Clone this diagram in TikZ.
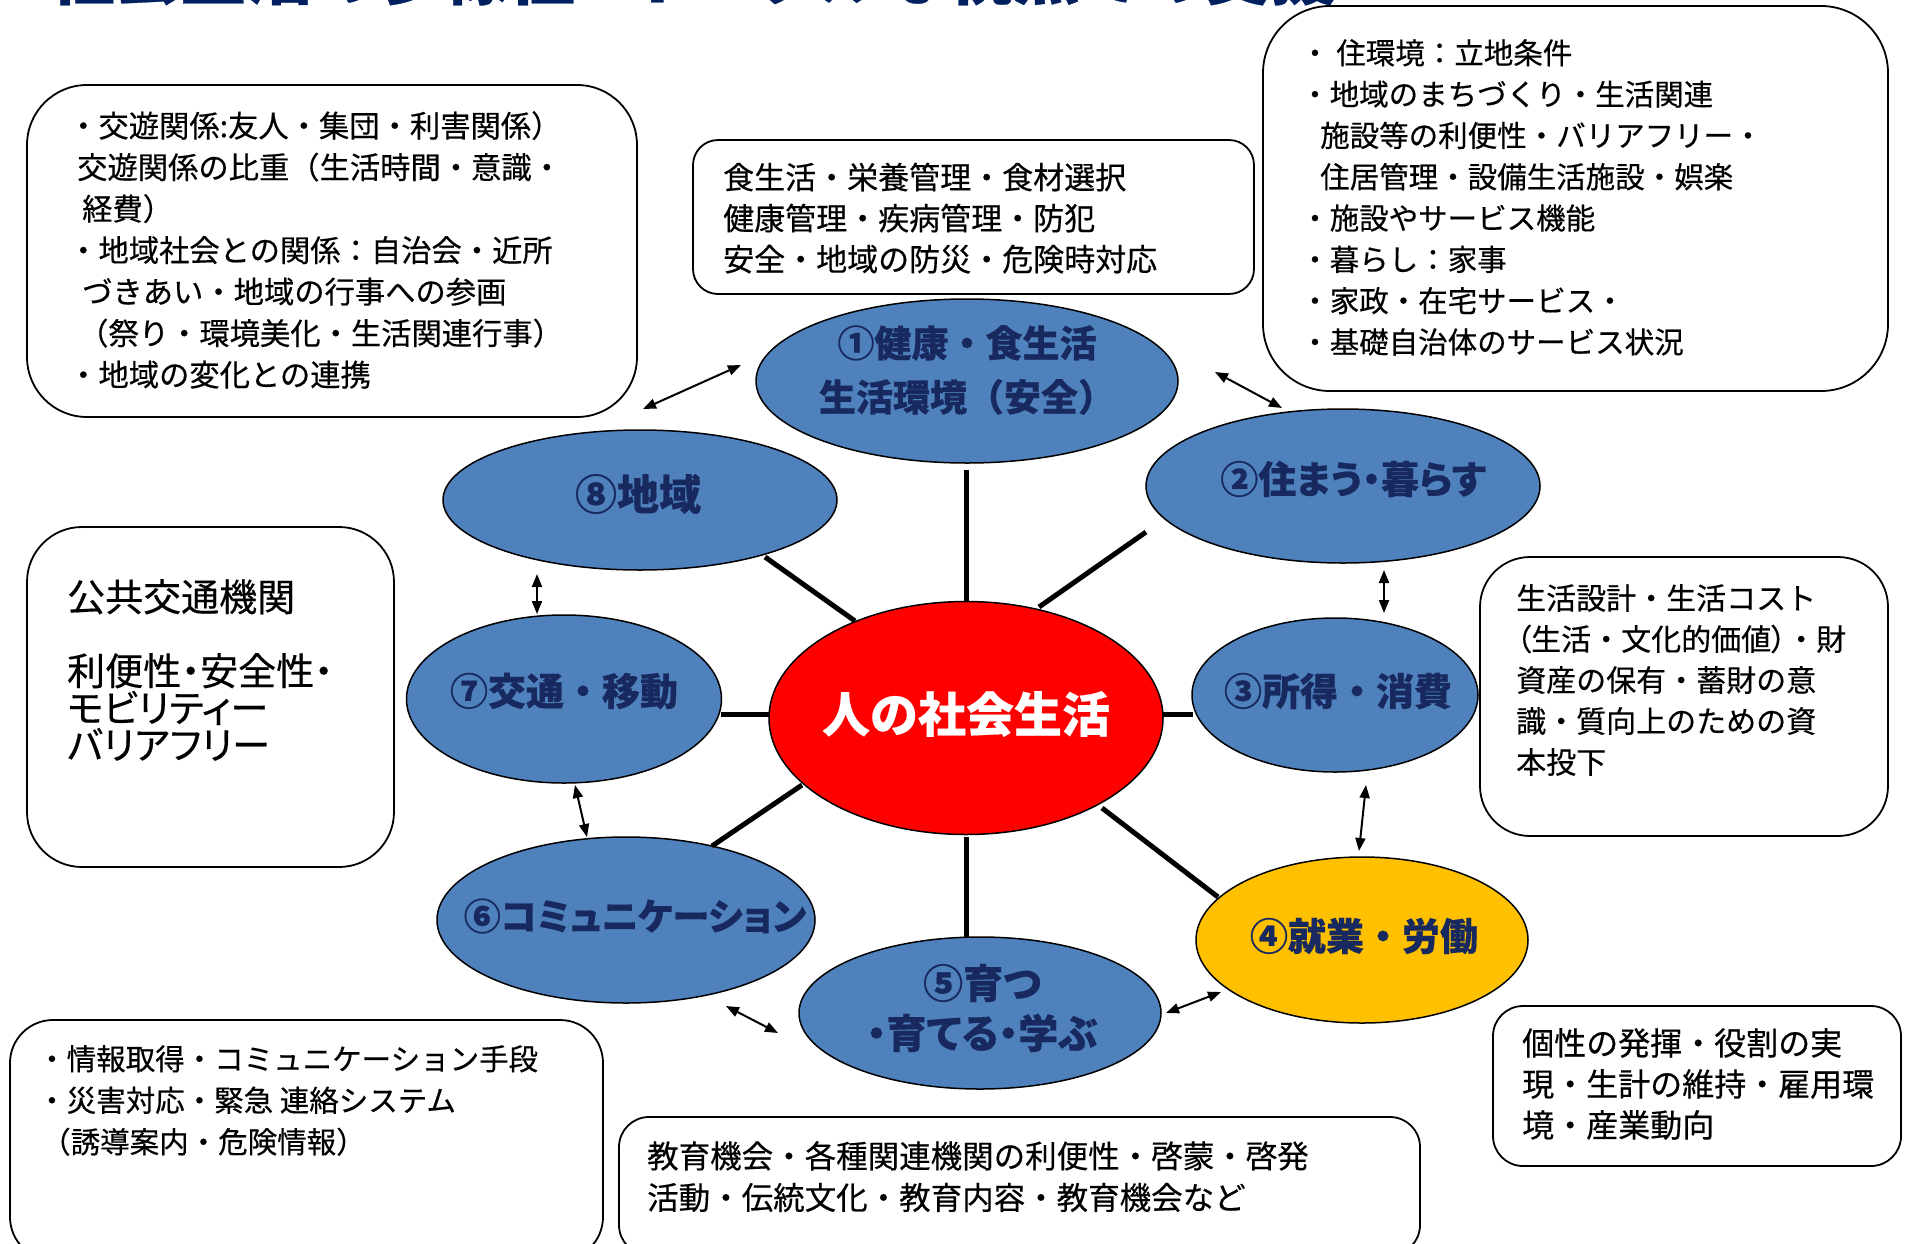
\documentclass[tikz,border=0pt]{standalone}
\usepackage{fontspec}
\setmainfont{Noto Sans CJK JP}[FakeBold=0.4]
\newfontfamily\pfont{Noto Sans CJK JP}[RawFeature=+palt,FakeBold=0.4]
\usetikzlibrary{shapes.geometric,arrows.meta}
\definecolor{ellblue}{HTML}{4F81BD}
\definecolor{ellyellow}{HTML}{FFC000}
\definecolor{ellred}{HTML}{FF0000}
\definecolor{navy}{HTML}{17295E}
\definecolor{titlenavy}{HTML}{002060}
\begin{document}
\begin{tikzpicture}[x=1pt,y=-1pt,
  panel/.style={draw, line width=1.8pt, inner sep=0pt, outer sep=0pt},
  bubble/.style={ellipse, draw, line width=1.5pt, fill=ellblue, inner sep=0pt, outer sep=0pt},
  boxtext/.style={anchor=north west, align=left, inner sep=0pt},
  elltext/.style={align=center, inner sep=0pt, text=navy, font=\bfseries\fontsize{37}{54}\selectfont},
  spoke/.style={line width=5pt},
  link/.style={line width=2pt, {Triangle[length=13pt,width=10pt]}-{Triangle[length=13pt,width=10pt]}}
]
\useasboundingbox (0,0) rectangle (1914,1243);
\fill[white] (0,0) rectangle (1914,1243);

% title (clipped at the top)
\node[anchor=base west, inner sep=0pt, text=titlenavy, font=\pfont\bfseries\fontsize{66}{70}\selectfont] (title) at (48,-1) {社会生活の多様性ートータルな視点での支援};

% boxes
\node[panel, rounded corners=60pt, minimum width=610pt, minimum height=332pt] (bA) at (332,251) {};
\node[panel, rounded corners=25pt, minimum width=561pt, minimum height=154pt] (bB) at (973.5,217) {};
\node[panel, rounded corners=67pt, minimum width=625pt, minimum height=385pt] (bC) at (1575.5,198.5) {};
\node[panel, rounded corners=55pt, minimum width=367pt, minimum height=340pt] (bD) at (210.5,697) {};
\node[panel, rounded corners=50pt, minimum width=408pt, minimum height=279pt] (bE) at (1684,696.5) {};
\node[panel, rounded corners=43pt, minimum width=593pt, minimum height=240pt] (bF) at (306.5,1140) {};
\node[panel, rounded corners=30pt, minimum width=801pt, minimum height=138pt] (bG) at (1019.5,1186) {};
\node[panel, rounded corners=30pt, minimum width=408pt, minimum height=160pt] (bH) at (1697,1086) {};

% box texts
\node[boxtext, font=\fontsize{30.3}{41.5}\selectfont] (tA) at (68,111) {・交遊関係:友人・集団・利害関係）\\\hspace*{9pt}交遊関係の比重（生活時間・意識・\\\hspace*{14pt}経費）\\・地域社会との関係：自治会・近所\\\hspace*{14pt}づきあい・地域の行事への参画\\\hspace*{10pt}（祭り・環境美化・生活関連行事）\\・地域の変化との連携};
\node[boxtext, font=\fontsize{31}{41}\selectfont] (tB) at (723,162.5) {食生活・栄養管理・食材選択\\健康管理・疾病管理・防犯\\安全・地域の防災・危険時対応};
\node[boxtext, font=\fontsize{29.5}{41.3}\selectfont] (tC) at (1300,39) {・ 住環境：立地条件\\・地域のまちづくり・生活関連\\\hspace*{20pt}施設等の利便性・バリアフリー・\\\hspace*{20pt}住居管理・設備生活施設・娯楽\\・施設やサービス機能\\・暮らし：家事\\・家政・在宅サービス・\\・基礎自治体のサービス状況};
\node[boxtext, font=\pfont\fontsize{38}{37}\selectfont] (tD) at (67,579) {公共交通機関\\[37pt]利便性・安全性・\\モビリティー\\バリアフリー};
\node[boxtext, font=\fontsize{30}{41}\selectfont] (tE) at (1516,584) {生活設計・生活コスト\\{\pfont （}生活・文化的価値{\pfont ）}・財\\資産の保有・蓄財の意\\識・質向上のための資\\本投下};
\node[boxtext, font=\fontsize{29.5}{41.5}\selectfont] (tF) at (37,1045) {・情報取得・コミュニケーション手段\\・災害対応・緊急 連絡システム\\\hspace*{4pt}（誘導案内・危険情報）};
\node[boxtext, font=\fontsize{31.5}{41.5}\selectfont] (tG) at (647,1141) {教育機会・各種関連機関の利便性・啓蒙・啓発\\活動・伝統文化・教育内容・教育機会など};
\node[boxtext, font=\fontsize{32}{41}\selectfont] (tH) at (1522,1028) {個性の発揮・役割の実\\現・生計の維持・雇用環\\境・産業動向};

% ellipses
\node[bubble, minimum width=422pt, minimum height=164pt] (e1) at (967,381) {};
\node[bubble, minimum width=394pt, minimum height=154pt] (e2) at (1343,486) {};
\node[bubble, minimum width=286pt, minimum height=154pt] (e3) at (1335,695) {};
\node[bubble, fill=ellyellow, minimum width=332pt, minimum height=166pt] (e4) at (1362,940) {};
\node[bubble, minimum width=362pt, minimum height=152pt] (e5) at (980,1013) {};
\node[bubble, minimum width=378pt, minimum height=166pt] (e6) at (626,920) {};
\node[bubble, minimum width=315pt, minimum height=168pt] (e7) at (564,699) {};
\node[bubble, minimum width=394pt, minimum height=140pt] (e8) at (640,500) {};
\node[bubble, fill=ellred, minimum width=394pt, minimum height=233pt] (ec) at (966,718) {};

% ellipse labels
\node[elltext] (l1) at (967,370) {①健康・食生活\\生活環境（安全）};
\node[elltext, font=\pfont\bfseries\fontsize{38}{54}\selectfont] (l2) at (1353,479) {②住まう・暮らす};
\node[elltext, font=\bfseries\fontsize{38}{54}\selectfont] (l3) at (1338,691) {③所得・消費};
\node[elltext, font=\bfseries\fontsize{38}{54}\selectfont] (l4) at (1364,936) {④就業・労働};
\node[elltext, font=\pfont\bfseries\fontsize{40}{50}\selectfont] (l5) at (982,1008) {⑤育つ\\・育てる・学ぶ};
\node[elltext, font=\pfont\bfseries\fontsize{37}{54}\selectfont] (l6) at (635,916) {⑥コミュニケーション};
\node[elltext, font=\bfseries\fontsize{38}{54}\selectfont] (l7) at (564,691) {⑦交通・移動};
\node[elltext, font=\bfseries\fontsize{42}{54}\selectfont] (l8) at (638,494) {⑧地域};
\node[elltext, text=white, font=\bfseries\fontsize{48}{54}\selectfont] (lc) at (966,714) {人の社会生活};

% spoke ends
\coordinate (s1a) at (966,602); \coordinate (s1b) at (966,470);
\coordinate (s2a) at (1039,607); \coordinate (s2b) at (1146,532);
\coordinate (s8a) at (855,621); \coordinate (s8b) at (765,557);
\coordinate (s7a) at (769,714); \coordinate (s7b) at (721,714);
\coordinate (s3a) at (1162,714); \coordinate (s3b) at (1193,714);
\coordinate (s6a) at (802,785); \coordinate (s6b) at (712,846);
\coordinate (s5a) at (966,837); \coordinate (s5b) at (966,937);
\coordinate (s4a) at (1102,808); \coordinate (s4b) at (1218,897);
\draw[spoke] (s1a) -- (s1b);
\draw[spoke] (s2a) -- (s2b);
\draw[spoke] (s8a) -- (s8b);
\draw[spoke] (s7a) -- (s7b);
\draw[spoke] (s3a) -- (s3b);
\draw[spoke] (s6a) -- (s6b);
\draw[spoke] (s5a) -- (s5b);
\draw[spoke] (s4a) -- (s4b);

% double arrows
\coordinate (aA1) at (643,409); \coordinate (aA2) at (741,365);
\coordinate (a12a) at (1215,372); \coordinate (a12b) at (1282,408);
\coordinate (a87a) at (537,574); \coordinate (a87b) at (537,614);
\coordinate (a23a) at (1384,570); \coordinate (a23b) at (1384,613);
\coordinate (a76a) at (575,785); \coordinate (a76b) at (587,837);
\coordinate (a34a) at (1366,785); \coordinate (a34b) at (1359,851);
\coordinate (a65a) at (726,1006); \coordinate (a65b) at (778,1033);
\coordinate (a54a) at (1166,1013); \coordinate (a54b) at (1221,992);
\draw[link] (aA1) -- (aA2);
\draw[link] (a12a) -- (a12b);
\draw[link] (a87a) -- (a87b);
\draw[link] (a23a) -- (a23b);
\draw[link] (a76a) -- (a76b);
\draw[link] (a34a) -- (a34b);
\draw[link] (a65a) -- (a65b);
\draw[link] (a54a) -- (a54b);
\end{tikzpicture}
\end{document}
